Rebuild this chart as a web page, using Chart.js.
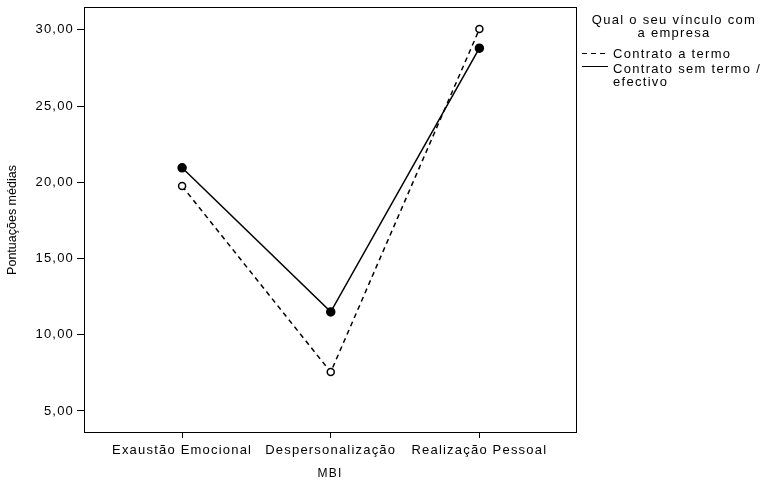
<!DOCTYPE html>
<html>
<head>
<meta charset="utf-8">
<script src="https://cdn.jsdelivr.net/npm/chart.js"></script>
<style>
  html, body { margin: 0; padding: 0; background: #fff; }
  canvas { display: block; }
</style>
</head>
<body>
<canvas id="mbiChart" width="760" height="481"></canvas>
<script>
// --------------------------
// Data
// --------------------------
const categories = ['Exaustão Emocional', 'Despersonalização', 'Realização Pessoal'];
const contratoTermo = [19.75, 7.55, 30.05];
const contratoEfectivo = [20.95, 11.5, 28.8];
const yTicks = [5, 10, 15, 20, 25, 30];
const yTitle = 'Pontuações médias';
const legendTitle = ['Qual o seu vínculo com', 'a empresa'];
const legendLabels = [['Contrato a termo'], ['Contrato sem termo /', 'efectivo']];

const FONT = '"Liberation Sans", Arial, sans-serif';

// the source uses a wide sans font, fake it with letter spacing
const wideText = {
  id: 'wideText',
  beforeDraw(chart) { chart.ctx.letterSpacing = '1.2px'; }
};

// box around the plot, y title and legend at the right
const boxAndLegend = {
  id: 'boxAndLegend',
  afterDraw(chart) {
    const { ctx, chartArea: a } = chart;
    ctx.save();
    ctx.strokeStyle = '#000';
    ctx.lineWidth = 1;
    ctx.strokeRect(a.left + 0.5, a.top + 0.5, a.right - a.left, a.bottom - a.top);

    ctx.fillStyle = '#000';

    // y title (not stretched in the source)
    ctx.save();
    ctx.letterSpacing = '0px';
    ctx.font = '12.5px ' + FONT;
    ctx.textAlign = 'center';
    ctx.textBaseline = 'middle';
    ctx.translate(13, 220);
    ctx.rotate(-Math.PI / 2);
    ctx.fillText(yTitle, 0, 0);
    ctx.restore();

    ctx.letterSpacing = '1.3px';
    ctx.font = '13px ' + FONT;
    ctx.textBaseline = 'middle';
    ctx.textAlign = 'center';
    const cx = a.right + 98;
    ctx.fillText(legendTitle[0], cx, 20);
    ctx.fillText(legendTitle[1], cx, 33);

    ctx.textAlign = 'left';
    const rows = [54, 69];
    const marks = [53, 66];
    chart.data.datasets.forEach((ds, i) => {
      const y = marks[i] + 0.5;
      ctx.setLineDash(ds.borderDash || []);
      ctx.beginPath();
      ctx.moveTo(a.right + 6, y);
      ctx.lineTo(a.right + 32, y);
      ctx.stroke();
      ctx.setLineDash([]);
      legendLabels[i].forEach((t, j) => ctx.fillText(t, a.right + 37, rows[i] + j * 13));
    });
    ctx.restore();
  }
};

new Chart(document.getElementById('mbiChart'), {
  type: 'scatter',
  data: {
    datasets: [
      {
        label: 'Contrato a termo',
        data: contratoTermo.map((v, i) => ({ x: i, y: v })),
        showLine: true,
        borderColor: '#000',
        borderWidth: 1.5,
        borderDash: [5, 4],
        pointRadius: 3.5,
        pointBackgroundColor: '#fff',
        pointBorderColor: '#000',
        pointBorderWidth: 1.5
      },
      {
        label: 'Contrato sem termo / efectivo',
        data: contratoEfectivo.map((v, i) => ({ x: i, y: v })),
        showLine: true,
        borderColor: '#000',
        borderWidth: 1.5,
        pointRadius: 4,
        pointBackgroundColor: '#000',
        pointBorderColor: '#000'
      }
    ]
  },
  options: {
    responsive: false,
    animation: false,
    layout: { padding: { top: 0, right: 184, left: 0, bottom: 0 } },
    plugins: { legend: { display: false }, tooltip: { enabled: false } },
    scales: {
      x: {
        type: 'linear',
        min: -0.66,
        max: 2.65,
        afterBuildTicks: (s) => { s.ticks = categories.map((_, i) => ({ value: i })); },
        afterFit: (s) => { s.height = 49; },
        grid: { drawOnChartArea: false, color: '#000', tickLength: 6 },
        border: { color: '#000' },
        ticks: {
          color: '#000',
          font: { family: FONT, size: 13 },
          padding: 5,
          maxRotation: 0,
          autoSkip: false,
          callback: (v) => categories[v]
        },
        title: {
          display: true,
          text: 'MBI',
          color: '#000',
          font: { family: FONT, size: 12 },
          padding: { top: 2, bottom: 0 }
        }
      },
      y: {
        min: 3.62,
        max: 31.5,
        afterBuildTicks: (s) => { s.ticks = yTicks.map(v => ({ value: v })); },
        afterFit: (s) => { s.width = 84; s.paddingTop = 7; s.paddingBottom = 0; },
        grid: { drawOnChartArea: false, color: '#000', tickLength: 7 },
        border: { color: '#000' },
        ticks: {
          color: '#000',
          font: { family: FONT, size: 13 },
          padding: 3,
          callback: (v) => v.toFixed(2).replace('.', ',')
        }
      }
    }
  },
  plugins: [wideText, boxAndLegend]
});
</script>
</body>
</html>
